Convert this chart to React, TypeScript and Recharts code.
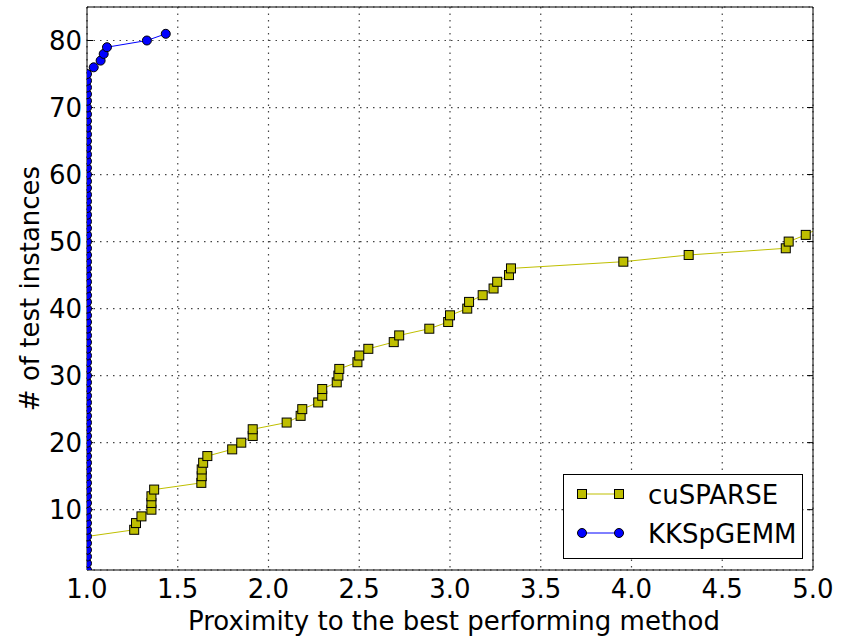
import { LineChart, Line, XAxis, YAxis, CartesianGrid, Legend } from "recharts";

// proximity ratios (x) and cumulative instance counts (y)
const cuSparseX = [
  1.0, 1.0, 1.0, 1.0, 1.0, 1.0, 1.26, 1.27, 1.3, 1.355, 1.355, 1.355, 1.37,
  1.63, 1.632, 1.632, 1.64, 1.663, 1.8, 1.85, 1.913, 1.913, 2.1, 2.177, 2.186,
  2.274, 2.296, 2.296, 2.376, 2.385, 2.39, 2.49, 2.5, 2.55, 2.69, 2.72, 2.886,
  2.99, 3.0, 3.095, 3.105, 3.18, 3.24, 3.26, 3.325, 3.336, 3.955, 4.315, 4.85,
  4.866, 4.96, 5.03,
];
const cuSparseY = [
  1, 2, 3, 4, 5, 6, 7, 8, 9, 10, 11, 12, 13, 14, 15, 16, 17, 18, 19, 20, 21, 22,
  23, 24, 25, 26, 27, 28, 29, 30, 31, 32, 33, 34, 35, 36, 37, 38, 39, 40, 41, 42,
  43, 44, 45, 46, 47, 48, 49, 50, 51, 52,
];

const kkX = [
  1.0, 1.0, 1.0, 1.0, 1.0, 1.0, 1.0, 1.0, 1.0, 1.0, 1.0, 1.0, 1.0, 1.0, 1.0,
  1.0, 1.0, 1.0, 1.0, 1.0, 1.0, 1.0, 1.0, 1.0, 1.0, 1.0, 1.0, 1.0, 1.0, 1.0,
  1.0, 1.0, 1.0, 1.0, 1.0, 1.0, 1.0, 1.0, 1.0, 1.0, 1.0, 1.0, 1.0, 1.0, 1.0,
  1.0, 1.0, 1.0, 1.0, 1.0, 1.0, 1.0, 1.0, 1.0, 1.0, 1.0, 1.0, 1.0, 1.0, 1.0,
  1.0, 1.0, 1.0, 1.0, 1.0, 1.0, 1.0, 1.0, 1.0, 1.0, 1.0, 1.0, 1.0, 1.0, 1.0,
  1.037, 1.075, 1.092, 1.11, 1.33, 1.434,
];
const kkY = [
  1, 2, 3, 4, 5, 6, 7, 8, 9, 10, 11, 12, 13, 14, 15, 16, 17, 18, 19, 20, 21, 22,
  23, 24, 25, 26, 27, 28, 29, 30, 31, 32, 33, 34, 35, 36, 37, 38, 39, 40, 41, 42,
  43, 44, 45, 46, 47, 48, 49, 50, 51, 52, 53, 54, 55, 56, 57, 58, 59, 60, 61, 62,
  63, 64, 65, 66, 67, 68, 69, 70, 71, 72, 73, 74, 75, 76, 77, 78, 79, 80, 81,
];

const xTicks = [1.0, 1.5, 2.0, 2.5, 3.0, 3.5, 4.0, 4.5, 5.0];
const yTicks = [10, 20, 30, 40, 50, 60, 70, 80];

const cuSparse = cuSparseX.map((x, i) => ({ x, y: cuSparseY[i] }));
const kkspgemm = kkX.map((x, i) => ({ x, y: kkY[i] }));

const FONT = "'DejaVu Sans', sans-serif";
const YELLOW = "#bfbf00";
const BLUE = "#0000ff";

const noTick = () => <g />;

function SquareDot(props: any) {
  const { cx, cy, payload, index } = props;
  // points sitting on x = 1.0 are hidden behind the blue column
  if (payload.x <= 1.0) return <g key={`s-${index}`} />;
  return (
    <rect
      key={`s-${index}`}
      x={cx - 4.5}
      y={cy - 4.5}
      width={9}
      height={9}
      fill={YELLOW}
      stroke="#000"
      strokeWidth={1}
    />
  );
}

function renderLegend() {
  return (
    <svg width={240} height={85} style={{ display: "block" }}>
      <rect x={0.5} y={0.5} width={239} height={84} fill="#fff" stroke="#000" />
      <line x1={19} y1={20} x2={56} y2={20} stroke={YELLOW} strokeWidth={1} />
      <rect x={14.5} y={15.5} width={9} height={9} fill={YELLOW} stroke="#000" />
      <rect x={51.5} y={15.5} width={9} height={9} fill={YELLOW} stroke="#000" />
      <text x={85} y={30} fontSize={26} fontFamily={FONT} fill="#000">
        cuSPARSE
      </text>
      <line x1={19} y1={59} x2={56} y2={59} stroke={BLUE} strokeWidth={1} />
      <circle cx={19} cy={59} r={4.5} fill={BLUE} stroke="#000" />
      <circle cx={56} cy={59} r={4.5} fill={BLUE} stroke="#000" />
      <text x={85} y={69} fontSize={26} fontFamily={FONT} fill="#000">
        KKSpGEMM
      </text>
    </svg>
  );
}

export default function App() {
  const tickStyle = { fontSize: 26, fill: "#000", fontFamily: FONT };
  return (
    <div style={{ position: "absolute", left: 0, top: 0, width: 852, height: 636, background: "#fff" }}>
      <LineChart
        width={852}
        height={636}
        margin={{ top: 7, right: 39, bottom: 0, left: 0 }}
        style={{ fontFamily: FONT }}
      >
        <CartesianGrid stroke="#444" strokeWidth={1.2} strokeDasharray="1.5 5" />
        <XAxis
          xAxisId={0}
          dataKey="x"
          type="number"
          domain={[1, 5]}
          ticks={xTicks}
          interval={0}
          allowDataOverflow
          tickFormatter={(v: number) => v.toFixed(1)}
          tick={tickStyle}
          tickLine={false}
          tickSize={0}
          tickMargin={10}
          axisLine={{ stroke: "#000" }}
          height={66}
          label={{
            value: "Proximity to the best performing method",
            position: "insideBottom",
            offset: 6,
            dx: 4,
            style: { fontSize: 26, fill: "#000", fontFamily: FONT },
          }}
        />
        <XAxis
          xAxisId="bottomTicks"
          type="number"
          domain={[1, 5]}
          ticks={xTicks}
          interval={0}
          allowDataOverflow
          mirror
          tick={noTick}
          tickSize={6}
          tickLine={{ stroke: "#000" }}
          axisLine={false}
        />
        <XAxis
          xAxisId="top"
          orientation="top"
          type="number"
          domain={[1, 5]}
          ticks={xTicks}
          interval={0}
          allowDataOverflow
          mirror
          tick={noTick}
          tickSize={6}
          tickLine={{ stroke: "#000" }}
          axisLine={{ stroke: "#000" }}
        />
        <YAxis
          yAxisId={0}
          type="number"
          domain={[1, 85]}
          ticks={yTicks}
          interval={0}
          allowDataOverflow
          width={87}
          tick={tickStyle}
          tickLine={false}
          tickSize={0}
          tickMargin={5}
          axisLine={{ stroke: "#000" }}
          label={{
            value: "# of test instances",
            angle: -90,
            position: "center",
            dx: -14,
            style: { fontSize: 26, fill: "#000", fontFamily: FONT },
          }}
        />
        <YAxis
          yAxisId="leftTicks"
          type="number"
          domain={[1, 85]}
          ticks={yTicks}
          interval={0}
          allowDataOverflow
          mirror
          tick={noTick}
          tickSize={6}
          tickLine={{ stroke: "#000" }}
          axisLine={false}
        />
        <YAxis
          yAxisId="right"
          orientation="right"
          type="number"
          domain={[1, 85]}
          ticks={yTicks}
          interval={0}
          allowDataOverflow
          mirror
          tick={noTick}
          tickSize={6}
          tickLine={{ stroke: "#000" }}
          axisLine={{ stroke: "#000" }}
        />
        <Line
          data={cuSparse}
          dataKey="y"
          name="cuSPARSE"
          type="linear"
          stroke={YELLOW}
          strokeWidth={1}
          dot={SquareDot}
          isAnimationActive={false}
        />
        <Line
          data={kkspgemm}
          dataKey="y"
          name="KKSpGEMM"
          type="linear"
          stroke={BLUE}
          strokeWidth={1}
          dot={{ r: 4.5, fill: BLUE, stroke: "#000", strokeWidth: 1 }}
          isAnimationActive={false}
        />
        <Legend
          layout="vertical"
          align="center"
          verticalAlign="middle"
          content={renderLegend}
          wrapperStyle={{ left: 563, top: 474, width: 240, height: 85, bottom: "auto" }}
        />
      </LineChart>
    </div>
  );
}
